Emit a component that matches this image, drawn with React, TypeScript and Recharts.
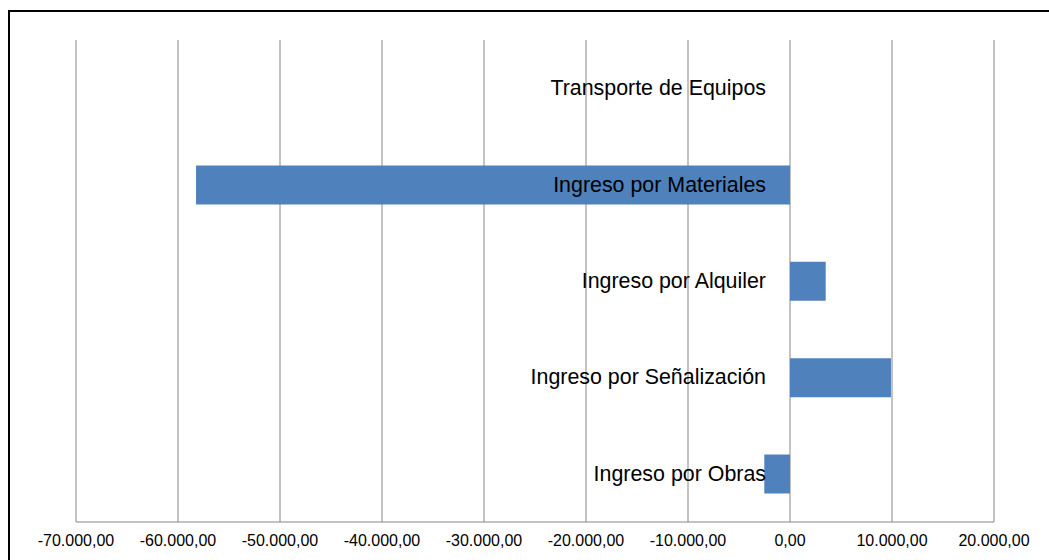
import React from "react";
import { BarChart, Bar, XAxis, YAxis, CartesianGrid } from "recharts";

const categories = [
  "Transporte de Equipos",
  "Ingreso por Materiales",
  "Ingreso por Alquiler",
  "Ingreso por Señalización",
  "Ingreso por Obras",
];
const values = [0, -58230, 3500, 9900, -2520];
const xTicks = [-70000, -60000, -50000, -40000, -30000, -20000, -10000, 0, 10000, 20000];

const data = categories.map((name, i) => ({ name, value: values[i] }));

const W = 1041;
const H = 544;
const MARGIN = { top: 32, right: 55, left: 67, bottom: 0 };
const DOMAIN: [number, number] = [xTicks[0], xTicks[xTicks.length - 1]];
const FONT = "'Liberation Sans', Arial, sans-serif";
const Y_AXIS_W = 1;

const plotWidth = W - MARGIN.left - Y_AXIS_W - MARGIN.right;
const zeroX = MARGIN.left + Y_AXIS_W + ((0 - DOMAIN[0]) / (DOMAIN[1] - DOMAIN[0])) * plotWidth;

function fmt(v: number): string {
  const neg = v < 0;
  const abs = Math.abs(v);
  const intPart = Math.floor(abs).toString().replace(/\B(?=(\d{3})+(?!\d))/g, ".");
  return (neg ? "-" : "") + intPart + ",00";
}

function renderCategoryTick(props: any) {
  const { y, payload } = props;
  return (
    <text
      key={payload.value}
      x={zeroX - 24}
      y={y}
      textAnchor="end"
      dominantBaseline="central"
      fontSize={21.4}
      fontFamily={FONT}
      fill="#000"
    >
      {payload.value}
    </text>
  );
}

export default function App() {
  return (
    <div
      style={{
        position: "fixed",
        left: 0,
        top: 0,
        width: 1049,
        height: 560,
        overflow: "hidden",
        background: "#fff",
      }}
    >
      <div
        style={{
          position: "absolute",
          left: 8,
          top: 10,
          right: 0,
          bottom: 0,
          borderTop: "2px solid #000",
          borderLeft: "2px solid #000",
        }}
      />
      <div style={{ position: "absolute", left: 8, top: 8 }}>
        <BarChart width={W} height={H} data={data} layout="vertical" margin={MARGIN}>
          <CartesianGrid horizontal={false} vertical={true} stroke="#868686" strokeWidth={1} />
          <XAxis
            type="number"
            domain={DOMAIN}
            ticks={xTicks}
            tickFormatter={fmt}
            interval={0}
            height={30}
            axisLine={{ stroke: "#868686" }}
            tickLine={false}
            tick={{ fontSize: 16, fontFamily: FONT, fill: "#000" }}
            tickMargin={7}
          />
          <Bar dataKey="value" fill="#4F81BD" barSize={39} isAnimationActive={false} />
          <YAxis
            type="category"
            dataKey="name"
            width={Y_AXIS_W}
            axisLine={false}
            tickLine={false}
            tick={renderCategoryTick}
            interval={0}
          />
        </BarChart>
      </div>
    </div>
  );
}
